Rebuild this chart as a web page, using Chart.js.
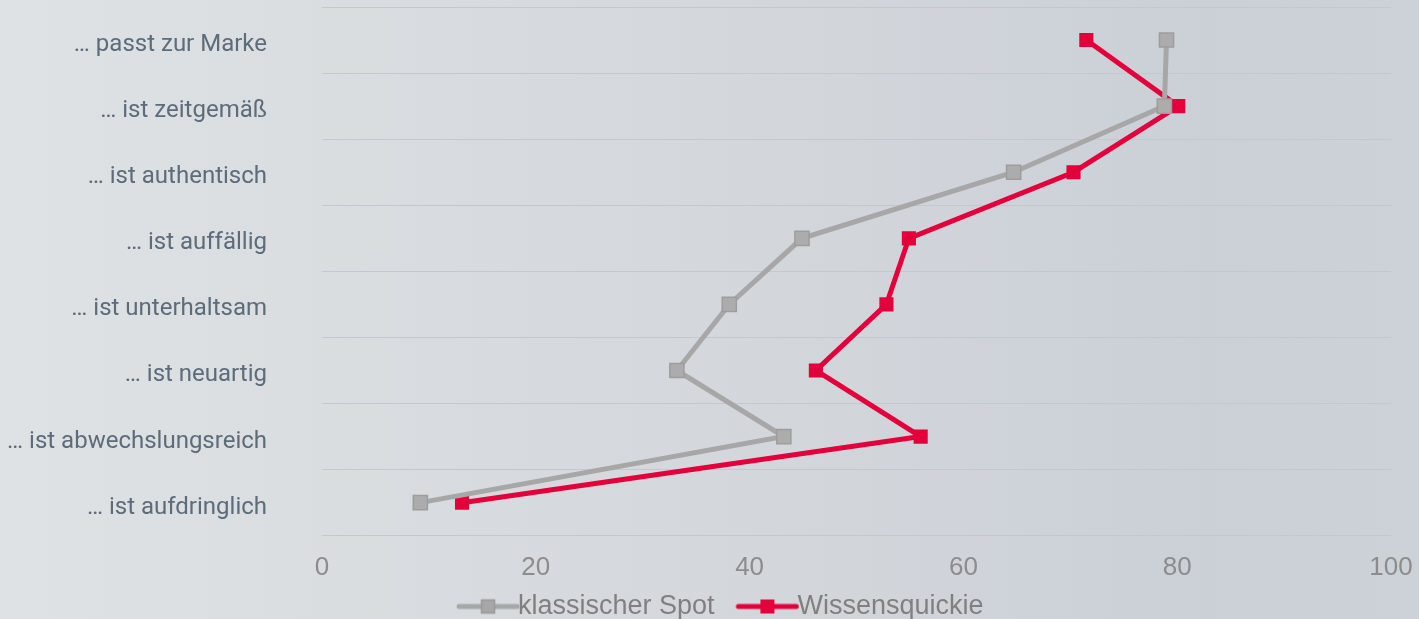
<!DOCTYPE html>
<html>
<head>
<meta charset="utf-8">
<script src="https://cdn.jsdelivr.net/npm/chart.js@4.4.1/dist/chart.umd.min.js"></script>
<style>
    html, body {
        margin: 0;
        padding: 0;
        width: 1419px;
        height: 619px;
        overflow: hidden;
        background: linear-gradient(to right, #dee2e5 0%, #d5d9dd 45%, #cbd0d7 85%, #cdd2d8 100%);
    }
    #wrap {
        position: relative;
        width: 1419px;
        height: 619px;
    }
</style>
</head>
<body>
<div id="wrap"><canvas id="chart"></canvas></div>
<script>
// data
const categories = [
    "… passt zur Marke",
    "… ist zeitgemäß",
    "… ist authentisch",
    "… ist auffällig",
    "… ist unterhaltsam",
    "… ist neuartig",
    "… ist abwechslungsreich",
    "… ist aufdringlich"
];
const klassischerSpot = [79.0, 78.8, 64.7, 44.9, 38.1, 33.2, 43.2, 9.2];
const wissensquickie = [71.5, 80.1, 70.3, 54.9, 52.8, 46.2, 56.0, 13.1];
const xTicks = [0, 20, 40, 60, 80, 100];

const grey = '#a7a7a7';
const red = '#e4003b';

// legend icon: line with a square in the middle (shifted right inside the image
// so it sits right against the legend text)
function legendIcon(color, border) {
    const c = document.createElement('canvas');
    c.width = 92;
    c.height = 20;
    const ctx = c.getContext('2d');
    ctx.strokeStyle = color;
    ctx.lineWidth = 5;
    ctx.lineCap = 'round';
    ctx.beginPath();
    ctx.moveTo(31, 10);
    ctx.lineTo(89, 10);
    ctx.stroke();
    ctx.fillStyle = color;
    ctx.fillRect(53, 3, 14, 14);
    if (border) {
        ctx.strokeStyle = border;
        ctx.lineWidth = 1.5;
        ctx.strokeRect(53.5, 3.5, 13, 13);
    }
    return c;
}

// nudge the legend a bit to the right, like in the original
const legendShift = {
    id: 'legendShift',
    afterLayout: chart => {
        chart.legend.left += 18;
        chart.legend.right += 18;
    }
};

const ctx = document.getElementById('chart');

new Chart(ctx, {
    type: 'line',
    data: {
        labels: categories,
        datasets: [{
            label: 'klassischer Spot',
            data: klassischerSpot,
            borderColor: grey,
            backgroundColor: grey,
            borderWidth: 5,
            pointStyle: 'rect',
            pointRadius: 10,
            pointBorderWidth: 1.5,
            pointBorderColor: '#9d9d9d',
            pointBackgroundColor: '#acacac',
            legendIcon: legendIcon('#a7a7a7', '#999999')
        }, {
            label: 'Wissensquickie',
            data: wissensquickie,
            borderColor: red,
            backgroundColor: red,
            borderWidth: 5,
            pointStyle: 'rect',
            pointRadius: 10,
            pointBorderWidth: 0,
            pointBackgroundColor: red,
            legendIcon: legendIcon(red)
        }]
    },
    plugins: [legendShift],
    options: {
        indexAxis: 'y',
        responsive: true,
        maintainAspectRatio: false,
        animation: false,
        layout: {
            autoPadding: false,
            padding: { top: 7, right: 28, left: 0, bottom: -11 }
        },
        scales: {
            x: {
                type: 'linear',
                min: 0,
                max: 100,
                afterBuildTicks: axis => {
                    axis.ticks = xTicks.map(v => ({ value: v }));
                },
                afterFit: axis => {
                    axis.height = 49;
                    axis.paddingLeft = 0;
                    axis.paddingRight = 0;
                },
                grid: { display: false, drawTicks: false },
                border: { display: false },
                ticks: {
                    color: '#8c8c8c',
                    padding: 17,
                    font: { family: 'Liberation Sans', size: 26 }
                }
            },
            y: {
                type: 'category',
                offset: true,
                afterFit: axis => {
                    axis.width = 322;
                    axis.paddingTop = 0;
                    axis.paddingBottom = 0;
                },
                grid: {
                    offset: true,
                    color: '#c3c8ce',
                    lineWidth: 1,
                    drawTicks: false
                },
                border: { display: false },
                ticks: {
                    color: '#5d6b7a',
                    padding: 55,
                    labelOffset: 5,
                    font: { family: 'Roboto', size: 24 }
                }
            }
        },
        plugins: {
            legend: {
                position: 'bottom',
                labels: {
                    usePointStyle: true,
                    pointStyleWidth: 61,
                    padding: 8.3,
                    color: '#808080',
                    font: { family: 'Liberation Sans', size: 27 },
                    generateLabels: chart => chart.data.datasets.map((ds, i) => ({
                        text: ds.label,
                        pointStyle: ds.legendIcon,
                        fillStyle: ds.borderColor,
                        strokeStyle: ds.borderColor,
                        lineWidth: 0,
                        hidden: false,
                        datasetIndex: i,
                        fontColor: '#808080'
                    }))
                }
            },
            tooltip: { enabled: false }
        }
    }
});
</script>
</body>
</html>
